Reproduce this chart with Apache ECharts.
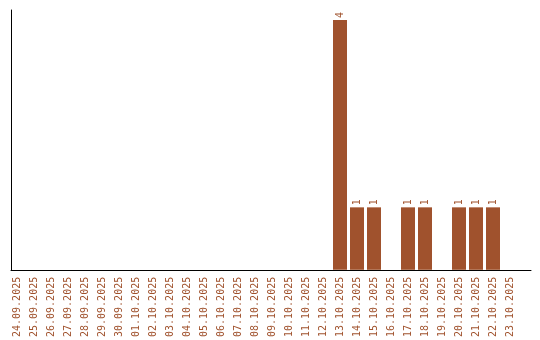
<!DOCTYPE html>
<html><head><meta charset="utf-8">
<script src="https://cdn.jsdelivr.net/npm/echarts@6/dist/echarts.min.js"></script>
<style>html,body{margin:0;padding:0;background:#fff}#c{width:540px;height:340px}</style>
</head><body><div id="c"></div>
<script>
var categories = ["24.09.2025","25.09.2025","26.09.2025","27.09.2025","28.09.2025","29.09.2025","30.09.2025","01.10.2025","02.10.2025","03.10.2025","04.10.2025","05.10.2025","06.10.2025","07.10.2025","08.10.2025","09.10.2025","10.10.2025","11.10.2025","12.10.2025","13.10.2025","14.10.2025","15.10.2025","16.10.2025","17.10.2025","18.10.2025","19.10.2025","20.10.2025","21.10.2025","22.10.2025","23.10.2025"];
var counts = [0,0,0,0,0,0,0,0,0,0,0,0,0,0,0,0,0,0,0,4,1,1,0,1,1,0,1,1,1,0];
var color = '#a0522d';
var font = '"DejaVu Sans Mono", monospace';
var chart = echarts.init(document.getElementById('c'));
chart.setOption({
  animation: false,
  grid: [
    {left: 11, right: 9, top: 10, bottom: 70},
    {left: 8.5, width: 510, top: 10, bottom: 70}
  ],
  xAxis: [
    {gridIndex: 0, type: 'value', min: 0, max: 1, axisLine: {show: true, onZero: false, lineStyle: {color: '#000', width: 1}},
     axisTick: {show: false}, axisLabel: {show: false}, splitLine: {show: false}},
    {gridIndex: 1, type: 'category', data: categories, boundaryGap: true,
     axisLine: {show: false}, axisTick: {show: false}, splitLine: {show: false},
     axisLabel: {rotate: 90, interval: 0, margin: 7, color: color, fontFamily: font, fontSize: 10}}
  ],
  yAxis: [
    {gridIndex: 0, type: 'value', min: 0, max: 4.16, axisLine: {show: true, lineStyle: {color: '#000', width: 1}},
     axisTick: {show: false}, axisLabel: {show: false}, splitLine: {show: false}},
    {gridIndex: 1, type: 'value', min: 0, max: 4.16, show: false, splitLine: {show: false}}
  ],
  series: [{
    type: 'bar', xAxisIndex: 1, yAxisIndex: 1, data: counts, barWidth: 14,
    itemStyle: {color: color},
    label: {show: true, position: 'top', rotate: 90, align: 'left', verticalAlign: 'middle', distance: 2,
      color: color, fontFamily: font, fontSize: 10,
      formatter: function (p) { return p.value ? String(p.value) : ''; }}
  }]
});
</script></body></html>
